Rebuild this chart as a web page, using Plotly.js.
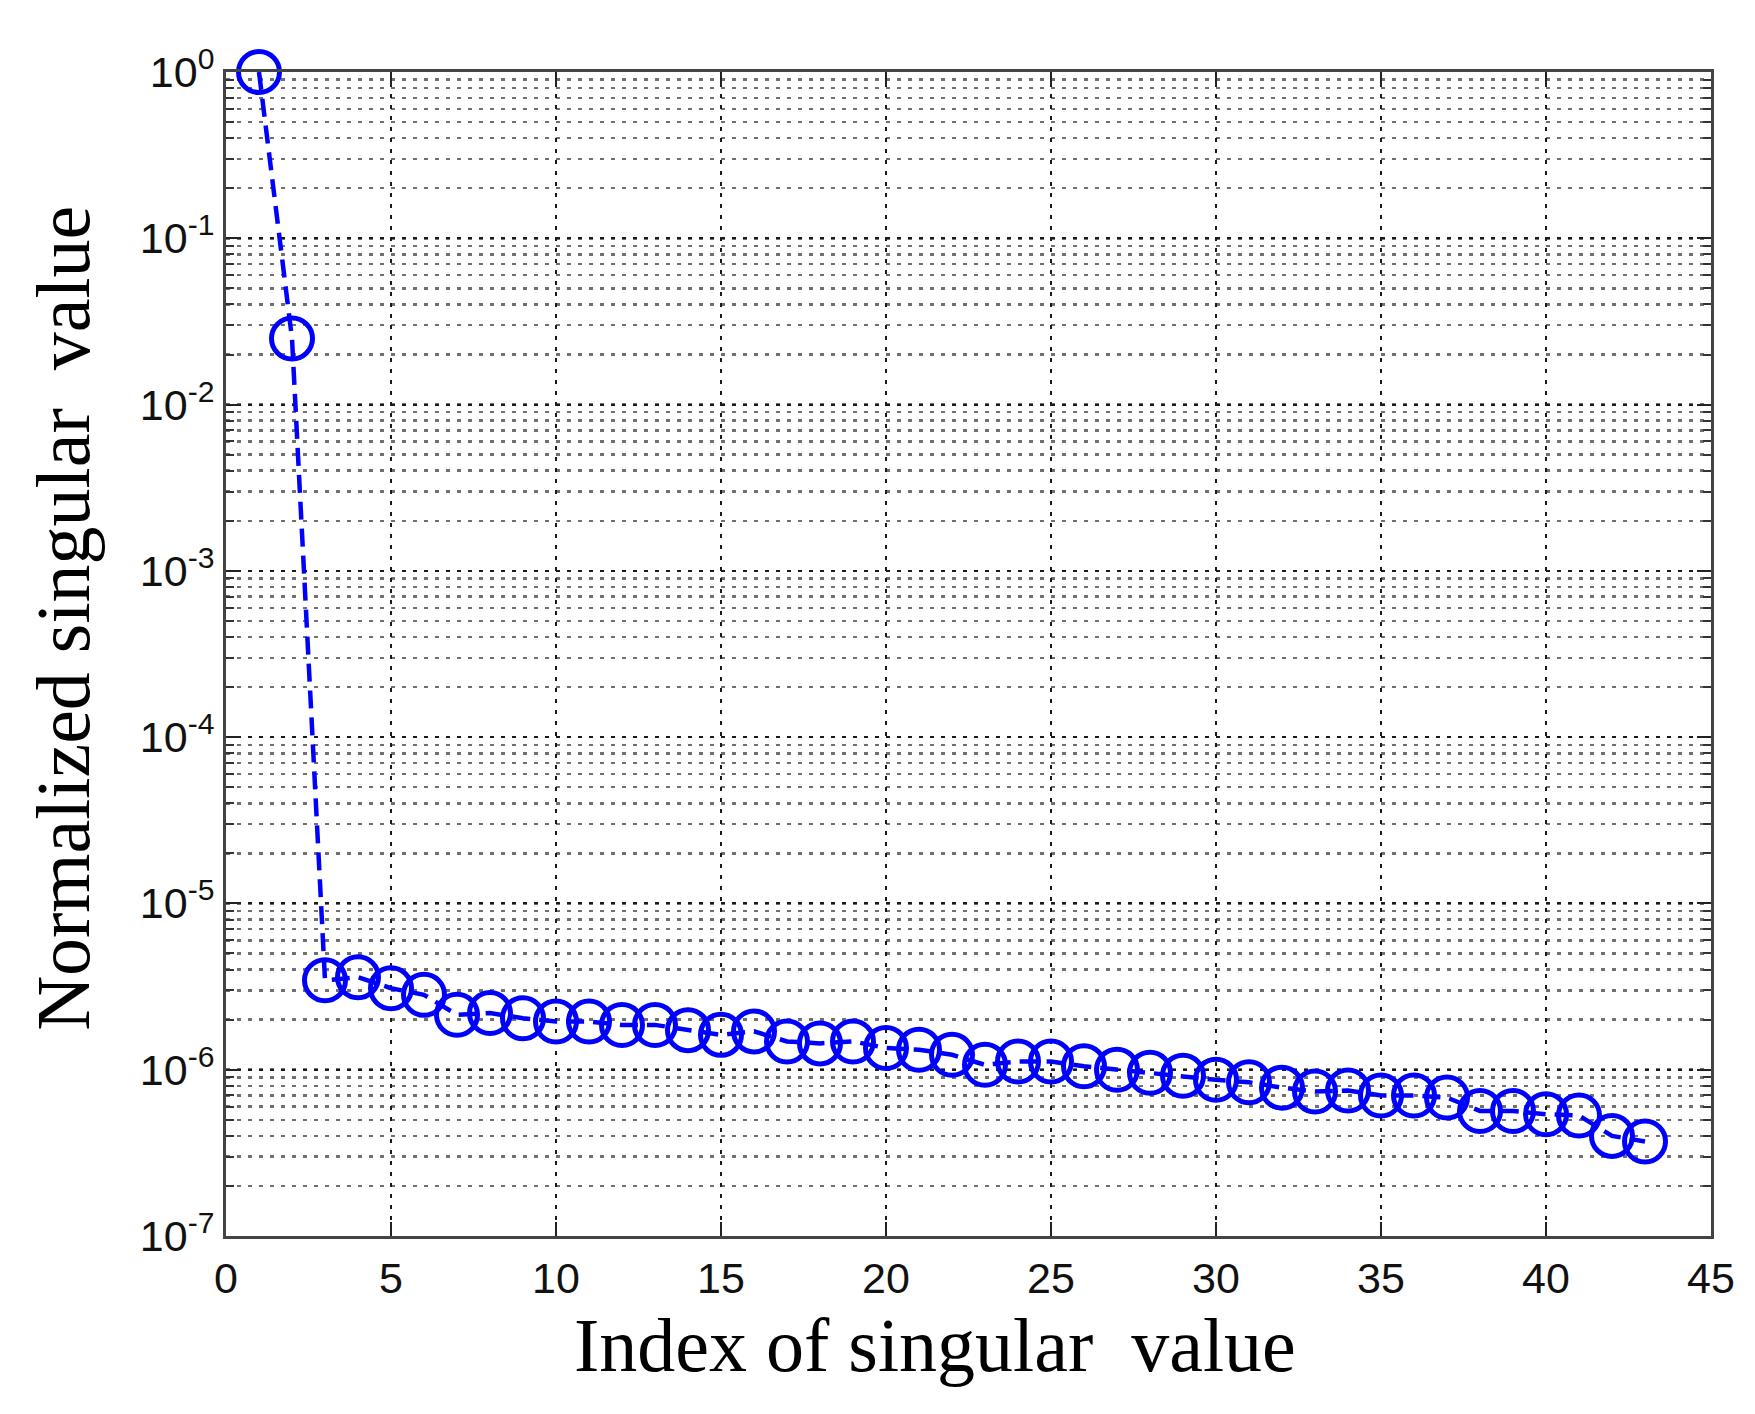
<!DOCTYPE html>
<html>
<head>
<meta charset="utf-8">
<script src="https://cdn.plot.ly/plotly-3.0.1.min.js"></script>
<style>
  html, body { margin: 0; padding: 0; background: #fff; }
  #plot { width: 1755px; height: 1414px; }
</style>
</head>
<body>
<div id="plot"></div>
<script>
// ===== Data =====
const indexValues = [1, 2, 3, 4, 5, 6, 7, 8, 9, 10, 11, 12, 13, 14, 15, 16, 17, 18, 19, 20, 21,
  22, 23, 24, 25, 26, 27, 28, 29, 30, 31, 32, 33, 34, 35, 36, 37, 38, 39, 40, 41, 42, 43];

const singularValues = [
  1.0, 0.025, 3.45e-6, 3.6e-6, 3.09e-6, 2.82e-6, 2.14e-6, 2.19e-6, 2.04e-6, 1.95e-6,
  1.95e-6, 1.86e-6, 1.86e-6, 1.73e-6, 1.62e-6, 1.70e-6, 1.48e-6, 1.44e-6, 1.48e-6, 1.35e-6,
  1.32e-6, 1.23e-6, 1.07e-6, 1.12e-6, 1.12e-6, 1.05e-6, 1.0e-6, 9.6e-7, 9.2e-7, 8.7e-7,
  8.4e-7, 7.8e-7, 7.4e-7, 7.5e-7, 7.0e-7, 7.0e-7, 6.8e-7, 5.65e-7, 5.65e-7, 5.4e-7,
  5.3e-7, 4.0e-7, 3.7e-7
];

const xTickVals = [0, 5, 10, 15, 20, 25, 30, 35, 40, 45];
const yTickVals = [1, 1e-1, 1e-2, 1e-3, 1e-4, 1e-5, 1e-6, 1e-7];
const yTickText = ['10<sup>0</sup>', '10<sup>-1</sup>', '10<sup>-2</sup>', '10<sup>-3</sup>',
  '10<sup>-4</sup>', '10<sup>-5</sup>', '10<sup>-6</sup>', '10<sup>-7</sup>'];

const xTitle = 'Index of singular\u00a0 value';
const yTitle = 'Normalized singular\u00a0 value';

// ===== Style =====
const TICK_FONT = { family: 'Liberation Sans, Arial, sans-serif', size: 43, color: '#111' };
const TITLE_FONT = { family: 'Liberation Serif, Times New Roman, serif', size: 76, color: '#000' };
const GRID_DASH = '4px,7px';

const trace = {
  x: indexValues,
  y: singularValues,
  type: 'scatter',
  mode: 'lines+markers',
  cliponaxis: false,
  line: { color: '#0000ff', width: 4.5, dash: '18px,9px' },
  marker: { symbol: 'circle-open', size: 41, color: '#0000ff', line: { width: 5, color: '#0000ff' } },
};

// Axis settings shared by both axes
const AXIS_BASE = {
  ticks: 'inside',
  ticklen: 14,
  tickwidth: 2,
  tickcolor: '#222',
  mirror: 'allticks',
  showline: true,
  linecolor: '#444',
  linewidth: 3,
  showgrid: true,
  gridcolor: '#1a1a1a',
  gridwidth: 2,
  griddash: GRID_DASH,
  zeroline: false,
  tickfont: TICK_FONT,
};

const layout = {
  width: 1755,
  height: 1414,
  paper_bgcolor: '#fff',
  plot_bgcolor: '#fff',
  margin: { l: 226, r: 44, t: 72, b: 178 },
  showlegend: false,
  xaxis: {
    ...AXIS_BASE,
    range: [0, 45],
    tickvals: xTickVals,
    ticklabelstandoff: 2,
  },
  yaxis: {
    ...AXIS_BASE,
    type: 'log',
    range: [-7, 0],
    tickvals: yTickVals,
    ticktext: yTickText,
    ticklabelstandoff: 0,
    minor: {
      dtick: 'D1',
      ticks: 'inside',
      ticklen: 8,
      tickwidth: 2,
      tickcolor: '#333',
      showgrid: true,
      gridcolor: '#707070',
      gridwidth: 2.5,
      griddash: GRID_DASH,
    },
  },
  // axis titles as annotations so they sit where the original puts them
  annotations: [
    {
      text: xTitle, font: TITLE_FONT, showarrow: false,
      xref: 'paper', yref: 'paper', x: 0.4774, y: -0.094,
      xanchor: 'center', yanchor: 'middle',
    },
    {
      text: yTitle, font: TITLE_FONT, showarrow: false, textangle: -90,
      xref: 'paper', yref: 'paper', x: -0.1098, y: 0.531,
      xanchor: 'center', yanchor: 'middle',
    },
  ],
};

Plotly.newPlot('plot', [trace], layout, { displayModeBar: false, staticPlot: true });
</script>
</body>
</html>
